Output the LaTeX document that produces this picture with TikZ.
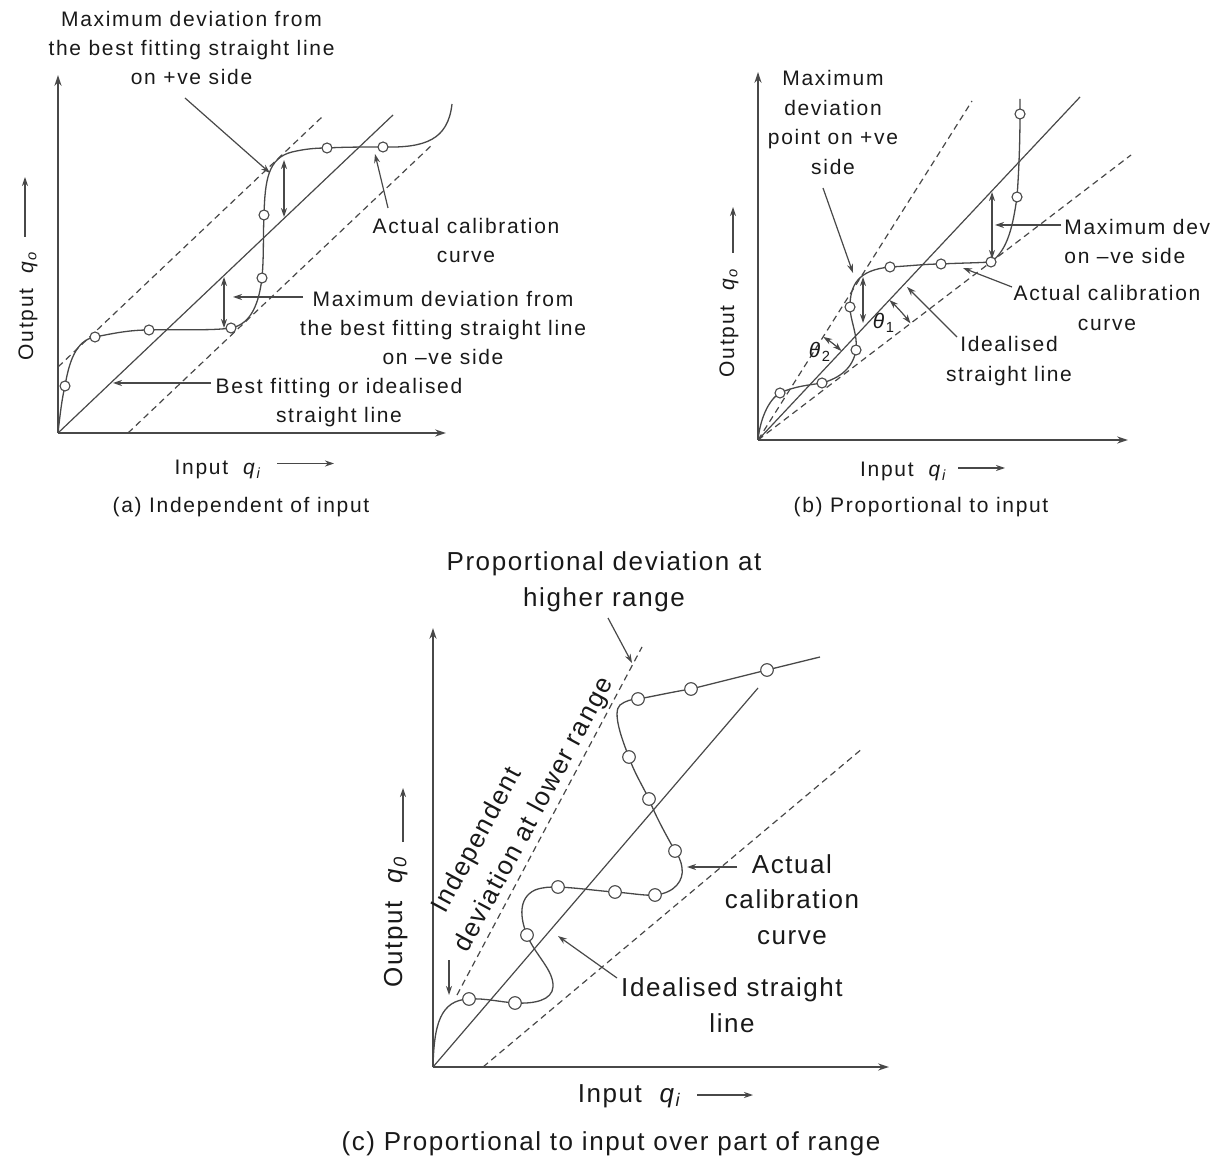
\documentclass[tikz,border=0pt]{standalone}
\usepackage{fontspec}
\setmainfont{Liberation Sans}
\newfontfamily\fontAB{Liberation Sans}[LetterSpace=8]
\newfontfamily\fontC{Liberation Sans}[LetterSpace=6]
\usetikzlibrary{arrows.meta}
\definecolor{ln}{RGB}{72,72,72}
\definecolor{tx}{RGB}{25,25,25}
\begin{document}
\begin{tikzpicture}[x=0.5pt,y=-0.5pt,
  axline/.style={draw=ln, line width=0.8pt, -{Stealth[length=5.5pt,width=3.6pt]}},
  ideal/.style={draw=ln, line width=0.6pt},
  bound/.style={draw=ln, line width=0.6pt, dash pattern=on 3.2pt off 2.2pt},
  calib/.style={draw=ln, line width=0.65pt},
  leader/.style={draw=ln, line width=0.6pt, -{Stealth[length=4.5pt,width=3pt]}},
  dev/.style={draw=ln, line width=0.6pt, {Stealth[length=4.5pt,width=3pt]}-{Stealth[length=4.5pt,width=3pt]}},
  calpt/.style={circle, draw=ln, fill=white, line width=0.55pt, minimum size=5pt, inner sep=0pt},
  calptc/.style={calpt, minimum size=6.3pt},
  lab/.style={text=tx, inner sep=0pt, align=center},
  fa/.style={lab, font=\fontAB\fontsize{10.5}{14.5}\selectfont},
  fb/.style={lab, font=\fontAB\fontsize{10.5}{14.85}\selectfont},
  fc/.style={lab, font=\fontC\fontsize{13}{17.75}\selectfont},
  fcr/.style={lab, font=\fontC\fontsize{13}{19}\selectfont},
]
\useasboundingbox (0,0) rectangle (1225,1159);

% ================= Panel (a) =================
\coordinate (Oa) at (58,433);
\coordinate (Ya) at (58,75);
\coordinate (Xa) at (446,433);
\draw[axline] (Oa) -- (Ya);
\draw[axline] (Oa) -- (Xa);
\coordinate (Sa) at (393,115);
\draw[ideal] (Oa) -- (Sa);
\coordinate (Ua0) at (58,367); \coordinate (Ua1) at (322,117);
\draw[bound] (Ua0) -- (Ua1);
\coordinate (La0) at (128,433); \coordinate (La1) at (433,144);
\draw[bound] (La0) -- (La1);
\draw[calib] (Oa) .. controls (60,415) and (62,398) .. (65,386)
  .. controls (69,362) and (76,340) .. (95,337)
  .. controls (115,333) and (130,330) .. (149,330)
  .. controls (180,329) and (210,331) .. (231,328)
  .. controls (252,324) and (259,302) .. (262,278)
  .. controls (264,255) and (263,235) .. (264,215)
  .. controls (265,180) and (268,158) .. (292,152)
  .. controls (305,149) and (315,148) .. (327,148)
  .. controls (345,147) and (365,147) .. (383,147)
  .. controls (425,148) and (448,140) .. (452,104);
\foreach \p [count=\i] in {(65,386),(95,337),(149,330),(231,328),(262,278),(264,215),(327,148),(383,147)}
  \node[calpt] (pa\i) at \p {};
\coordinate (Da1) at (284,160); \coordinate (Da2) at (284,217);
\draw[dev] (Da1) -- (Da2);
\coordinate (Da3) at (224,277); \coordinate (Da4) at (224,328);
\draw[dev] (Da3) -- (Da4);

\node[fa] (ta1) at (191.5,48.5) {Maximum deviation from\\the best fitting straight line\\on +ve side};
\coordinate (la1s) at (185,98); \coordinate (la1e) at (270,173);
\draw[leader] (la1s) -- (la1e);
\node[fa] (ta2) at (466,241) {Actual calibration\\curve};
\coordinate (la2s) at (388,208); \coordinate (la2e) at (375,154);
\draw[leader] (la2s) -- (la2e);
\node[fa] (ta3) at (443,328) {Maximum deviation from\\the best fitting straight line\\on –ve side};
\coordinate (la3s) at (303,297); \coordinate (la3e) at (233,297);
\draw[leader] (la3s) -- (la3e);
\node[fa] (ta4) at (339,403) {Best fitting or idealised\\straight line};
\coordinate (la4s) at (211,383); \coordinate (la4e) at (113,383);
\draw[leader] (la4s) -- (la4e);

\node[fa, anchor=base] (ia) at (218.5,475) {Input~~\textit{q}\textsubscript{\textit{i}}};
\coordinate (iaa0) at (277,463.5); \coordinate (iaa1) at (334,463.5);
\draw[leader] (iaa0) -- (iaa1);
\node[fa, anchor=base, rotate=90] (oa) at (33,305) {Output~~\textit{q}\textsubscript{\textit{o}}};
\coordinate (oaa0) at (25,237); \coordinate (oaa1) at (25,177);
\draw[leader] (oaa0) -- (oaa1);
\node[fa, anchor=base] (capa) at (241,513) {(a) Independent of input};

% ================= Panel (b) =================
\coordinate (Ob) at (758,440);
\coordinate (Yb) at (758,72);
\coordinate (Xb) at (1128,440);
\draw[axline] (Ob) -- (Yb);
\draw[axline] (Ob) -- (Xb);
\coordinate (Sb) at (1080,97);
\draw[ideal] (Ob) -- (Sb);
\coordinate (Ub) at (972,101);
\draw[bound] (Ob) -- (Ub);
\coordinate (Lb) at (1131,155);
\draw[bound] (Ob) -- (Lb);
\draw[calib] (Ob) .. controls (760,420) and (768,400) .. (780,393)
  .. controls (795,386) and (810,385) .. (822,383)
  .. controls (840,378) and (853,368) .. (856,350)
  .. controls (858,335) and (850,320) .. (850,307)
  .. controls (850,285) and (858,270) .. (890,267)
  .. controls (910,266) and (925,264) .. (941,264)
  .. controls (960,263) and (975,263) .. (991,262)
  .. controls (1008,250) and (1013,225) .. (1017,197)
  .. controls (1019,170) and (1020,140) .. (1020,114)
  -- (1020,99);
\foreach \p [count=\i] in {(780,393),(822,383),(856,350),(850,307),(890,267),(941,264),(991,262),(1017,197),(1020,114)}
  \node[calpt] (pb\i) at \p {};
\coordinate (Db1) at (863,277); \coordinate (Db2) at (863,323);
\draw[dev] (Db1) -- (Db2);
\coordinate (Db3) at (992,192); \coordinate (Db4) at (992,259);
\draw[dev] (Db3) -- (Db4);
\draw[dev] (Ob) ++(-46.8:192) arc[start angle=-46.8, end angle=-37.4, radius=192];
\draw[dev] (Ob) ++(-57.7:122) arc[start angle=-57.7, end angle=-46.8, radius=122];
\node[fb] (th1) at (884,323) {\textit{θ}\textsubscript{1}};
\node[fb] (th2) at (820,352) {\textit{θ}\textsubscript{2}};

\node[fb] (tb1) at (833,122.5) {Maximum\\deviation\\point on +ve\\side};
\coordinate (lb1s) at (823,188); \coordinate (lb1e) at (853,273);
\draw[leader] (lb1s) -- (lb1e);
\node[fb, anchor=west, align=left] (tb2) at (1064,241.5) {Maximum dev\\on –ve side};
\coordinate (lb2s) at (1061,225); \coordinate (lb2e) at (995,225);
\draw[leader] (lb2s) -- (lb2e);
\node[fb] (tb3) at (1107,308) {Actual calibration\\curve};
\coordinate (lb3s) at (1012,287); \coordinate (lb3e) at (963,268);
\draw[leader] (lb3s) -- (lb3e);
\node[fb] (tb4) at (1009,361) {Idealised\\straight line};
\coordinate (lb4s) at (957,337); \coordinate (lb4e) at (907,287);
\draw[leader] (lb4s) -- (lb4e);

\node[fb, anchor=base] (ib) at (904,477) {Input~~\textit{q}\textsubscript{\textit{i}}};
\coordinate (iba0) at (958,468); \coordinate (iba1) at (1005,468);
\draw[leader] (iba0) -- (iba1);
\node[fb, anchor=base, rotate=90] (ob) at (734,322) {Output~~\textit{q}\textsubscript{\textit{o}}};
\coordinate (oba0) at (733,253); \coordinate (oba1) at (733,207);
\draw[leader] (oba0) -- (oba1);
\node[fb, anchor=base] (capb) at (921,513) {(b) Proportional to input};

% ================= Panel (c) =================
\coordinate (Oc) at (433,1067);
\coordinate (Yc) at (433,628);
\coordinate (Xc) at (889,1067);
\draw[axline] (Oc) -- (Yc);
\draw[axline] (Oc) -- (Xc);
\coordinate (Sc) at (758,688);
\draw[ideal] (Oc) -- (Sc);
\coordinate (Uc0) at (457,995); \coordinate (Uc1) at (642,647);
\draw[bound] (Uc0) -- (Uc1);
\coordinate (Lc0) at (483,1067); \coordinate (Lc1) at (863,748);
\draw[bound] (Lc0) -- (Lc1);
\draw[calib] (Oc) .. controls (434,1025) and (440,1000) .. (469,999)
  .. controls (485,998) and (500,1002) .. (515,1003)
  .. controls (535,1004) and (552,1000) .. (553,987)
  .. controls (554,970) and (535,955) .. (527,935)
  .. controls (520,918) and (518,898) .. (535,890)
  .. controls (543,887) and (550,887) .. (558,887)
  .. controls (580,888) and (598,891) .. (615,892)
  .. controls (630,893) and (645,896) .. (655,895)
  .. controls (675,893) and (684,880) .. (682,868)
  .. controls (681,860) and (678,855) .. (675,851)
  .. controls (665,833) and (655,815) .. (649,799)
  .. controls (642,785) and (633,770) .. (629,757)
  .. controls (622,740) and (612,712) .. (620,705)
  .. controls (625,701) and (632,699) .. (638,699)
  .. controls (655,696) and (672,692) .. (691,689)
  -- (767,670) -- (820,657);
\foreach \p [count=\i] in {(469,999),(515,1003),(527,935),(558,887),(615,892),(655,895),(675,851),(649,799),(629,757),(638,699),(691,689),(767,670)}
  \node[calptc] (pc\i) at \p {};

\node[fc] (tc1) at (604,582) {Proportional deviation at\\higher range};
\coordinate (lc1s) at (608,618); \coordinate (lc1e) at (632,663);
\draw[leader] (lc1s) -- (lc1e);
\node[fcr, align=left, rotate=61.7] (tc2) at (518,806) {\hspace*{12pt}Independent\\deviation at lower range};
\coordinate (lc2s) at (449,960); \coordinate (lc2e) at (449,995);
\draw[leader] (lc2s) -- (lc2e);
\node[fc] (tc4) at (792,899.5) {Actual\\calibration\\curve};
\coordinate (lc3s) at (737,867); \coordinate (lc3e) at (687,867);
\draw[leader] (lc3s) -- (lc3e);
\node[fc] (tc5) at (732,1005) {Idealised straight\\line};
\coordinate (lc4s) at (617,978); \coordinate (lc4e) at (558,936);
\draw[leader] (lc4s) -- (lc4e);

\node[fc, anchor=base] (ic) at (630,1102) {Input~~\textit{q}\textsubscript{\textit{i}}};
\coordinate (ica0) at (697,1095); \coordinate (ica1) at (753,1095);
\draw[leader] (ica0) -- (ica1);
\node[fc, anchor=base, rotate=90] (oc) at (402,921.5) {Output~~\textit{q}\textsubscript{\textit{0}}};
\coordinate (oca0) at (403,842); \coordinate (oca1) at (403,788);
\draw[leader] (oca0) -- (oca1);
\node[fc, anchor=base] (capc) at (611,1150) {(c) Proportional to input over part of range};
\end{tikzpicture}
\end{document}
